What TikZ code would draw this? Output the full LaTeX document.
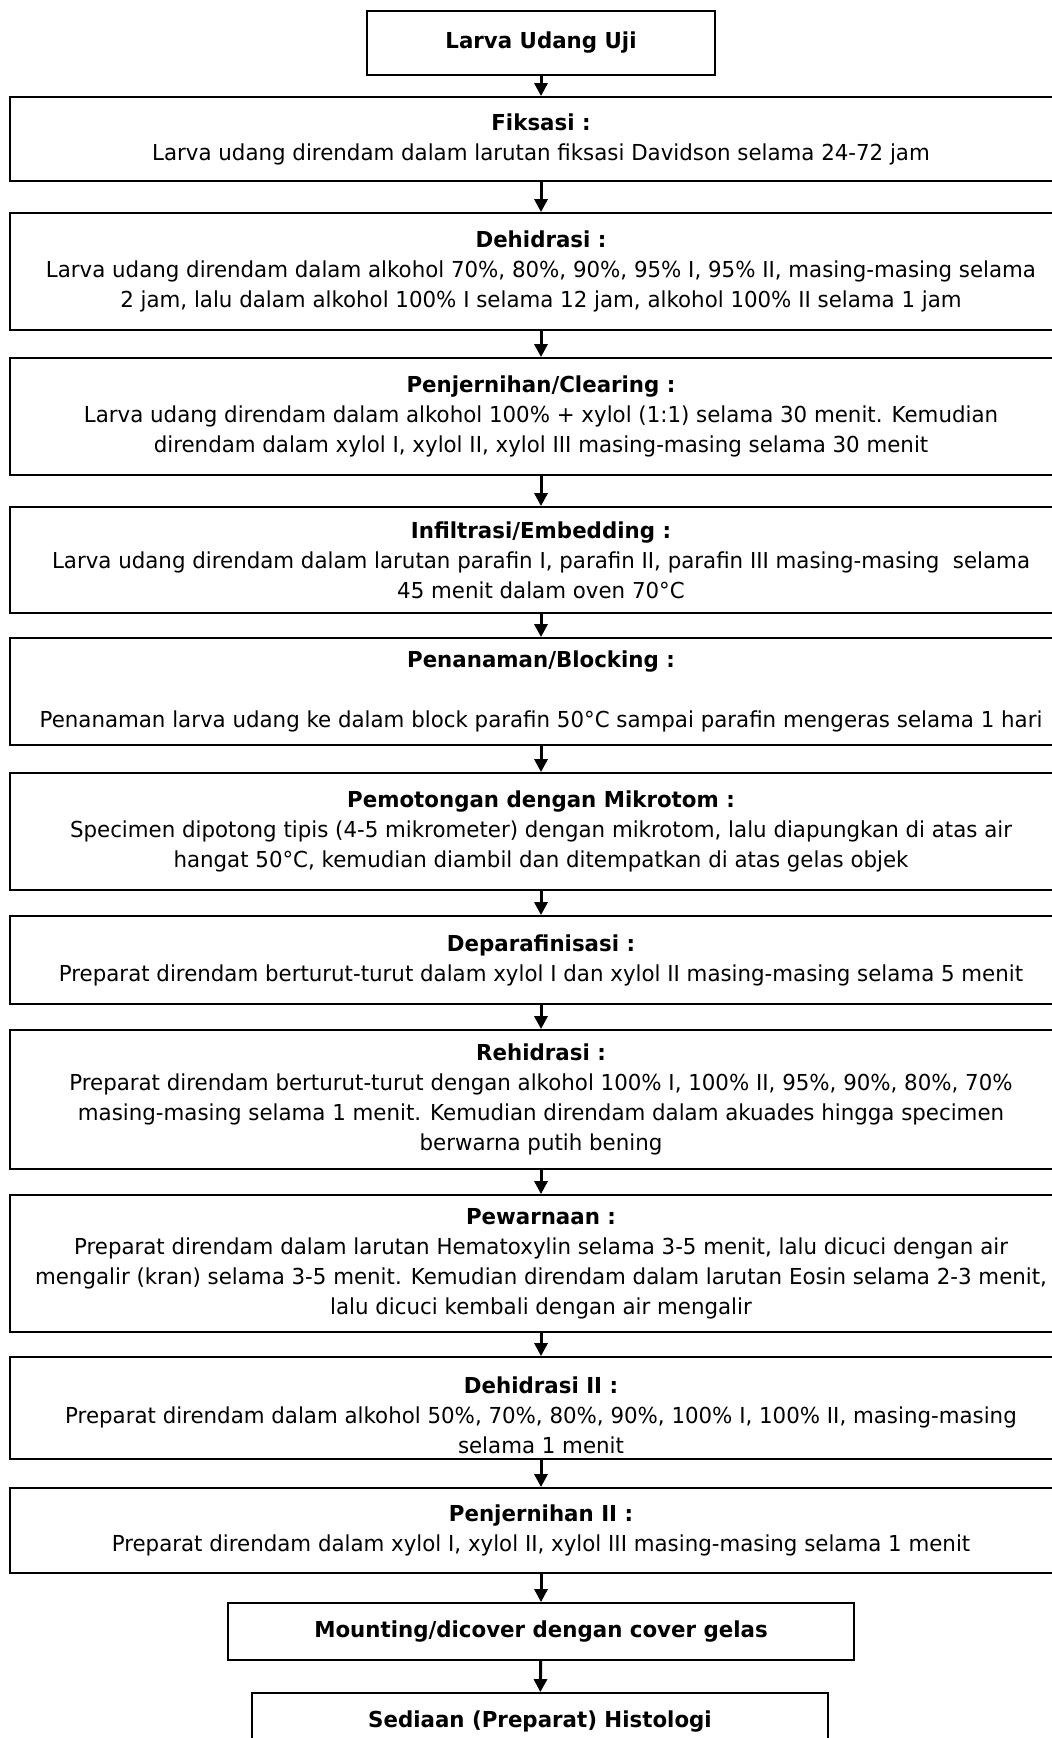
\documentclass[tikz,border=0pt]{standalone}
\usepackage{fontspec}
\setmainfont{DejaVu Sans}[FakeStretch=0.97]
\usetikzlibrary{arrows.meta,positioning}

\begin{document}
\begin{tikzpicture}[x=0.5pt,y=-0.5pt,
  font=\fontsize{11}{15}\selectfont,
  stepbox/.style={draw,line width=0.9pt,align=center,inner sep=0pt,minimum width=531pt},
  endbox/.style={draw,line width=0.9pt,align=center,inner sep=0pt,font=\fontsize{11}{15}\selectfont\bfseries},
  arr/.style={line width=1.5pt,-{Triangle[length=6.5pt,width=6.5pt]}}]
  \useasboundingbox (0,0) rectangle (1052,1738);
  \clip (0,0) rectangle (1052,1738);
  % Start of the procedure
  \path (541,43) node[endbox,minimum width=174pt,minimum height=32pt] (Larva) {Larva Udang Uji};
  % Steps of the histology procedure
  \path (541,139) node[stepbox,minimum height=42pt] (Fiksasi) {\textbf{Fiksasi :}\\
    Larva udang direndam dalam larutan fiksasi Davidson selama 24-72 jam};
  \path (541,271.5) node[stepbox,minimum height=58.5pt] (Dehidrasi) {\textbf{Dehidrasi :}\\
    Larva udang direndam dalam alkohol 70\%, 80\%, 90\%, 95\% I, 95\% II, masing-masing selama\\
    2 jam, lalu dalam alkohol 100\% I selama 12 jam, alkohol 100\% II selama 1 jam};
  \path (541,416.5) node[stepbox,minimum height=58.5pt] (Clearing) {\textbf{Penjernihan/Clearing :}\\
    Larva udang direndam dalam alkohol 100\% + xylol (1:1) selama 30 menit. Kemudian\\
    direndam dalam xylol I, xylol II, xylol III masing-masing selama 30 menit};
  \path (541,560) node[stepbox,minimum height=53pt] (Infiltrasi) {\textbf{Infiltrasi/Embedding :}\\
    Larva udang direndam dalam larutan parafin I, parafin II, parafin III masing-masing\ \ selama\\
    45 menit dalam oven 70°C};
  \path (541,691.5) node[stepbox,minimum height=53.5pt] (Blocking) {\textbf{Penanaman/Blocking :}\\[15pt]
    Penanaman larva udang ke dalam block parafin 50°C sampai parafin mengeras selama 1 hari};
  \path (541,831.5) node[stepbox,minimum height=58.5pt] (Mikrotom) {\textbf{Pemotongan dengan Mikrotom :}\\
    Specimen dipotong tipis (4-5 mikrometer) dengan mikrotom, lalu diapungkan di atas air\\
    hangat 50°C, kemudian diambil dan ditempatkan di atas gelas objek};
  \path (541,960) node[stepbox,minimum height=44pt] (Deparafin) {\textbf{Deparafinisasi :}\\
    Preparat direndam berturut-turut dalam xylol I dan xylol II masing-masing selama 5 menit};
  \path (541,1099.5) node[stepbox,minimum height=69.5pt] (Rehidrasi) {\textbf{Rehidrasi :}\\
    Preparat direndam berturut-turut dengan alkohol 100\% I, 100\% II, 95\%, 90\%, 80\%, 70\%\\
    masing-masing selama 1 menit. Kemudian direndam dalam akuades hingga specimen\\
    berwarna putih bening};
  \path (541,1263.5) node[stepbox,minimum height=68.5pt] (Pewarnaan) {\textbf{Pewarnaan :}\\
    Preparat direndam dalam larutan Hematoxylin selama 3-5 menit, lalu dicuci dengan air\\
    mengalir (kran) selama 3-5 menit. Kemudian direndam dalam larutan Eosin selama 2-3 menit,\\
    lalu dicuci kembali dengan air mengalir};
  \path (541,1408) node[stepbox,minimum height=51pt] (DehidrasiII) {\rule{0pt}{16pt}\textbf{Dehidrasi II :}\\
    Preparat direndam dalam alkohol 50\%, 70\%, 80\%, 90\%, 100\% I, 100\% II, masing-masing\\
    selama 1 menit};
  \path (541,1530.5) node[stepbox,minimum height=42.5pt] (ClearingII) {\textbf{Penjernihan II :}\\
    Preparat direndam dalam xylol I, xylol II, xylol III masing-masing selama 1 menit};
  % Final steps
  \path (541,1631.5) node[endbox,minimum width=313pt,minimum height=28.5pt] (Mounting) {Mounting/dicover dengan cover gelas};
  \path (540,1721.5) node[endbox,minimum width=288pt,minimum height=28.5pt] (Sediaan) {Sediaan (Preparat) Histologi};
  % Arrows between the steps
  \draw[arr] (Larva) -- (Fiksasi);
  \draw[arr] (Fiksasi) -- (Dehidrasi);
  \draw[arr] (Dehidrasi) -- (Clearing);
  \draw[arr] (Clearing) -- (Infiltrasi);
  \draw[arr] (Infiltrasi) -- (Blocking);
  \draw[arr] (Blocking) -- (Mikrotom);
  \draw[arr] (Mikrotom) -- (Deparafin);
  \draw[arr] (Deparafin) -- (Rehidrasi);
  \draw[arr] (Rehidrasi) -- (Pewarnaan);
  \draw[arr] (Pewarnaan) -- (DehidrasiII);
  \draw[arr] (DehidrasiII) -- (ClearingII);
  \draw[arr] (ClearingII) -- (Mounting);
  \draw[arr] (Mounting) -- (Sediaan);
\end{tikzpicture}
\end{document}
